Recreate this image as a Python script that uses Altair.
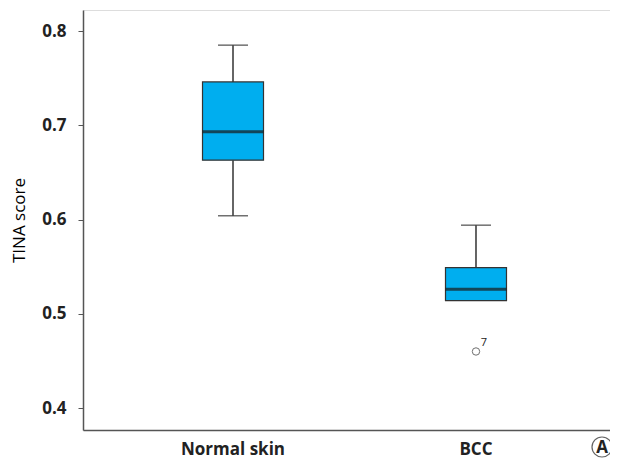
import altair as alt
import pandas as pd

categories = ["Normal skin", "BCC"]
lower = [0.604, 0.514]
q1 = [0.663, 0.514]
median = [0.693, 0.526]
q3 = [0.746, 0.549]
upper = [0.785, 0.594]

outlier_category = ["BCC"]
outlier_value = [0.460]
outlier_label = ["7"]

y_ticks = [0.4, 0.5, 0.6, 0.7, 0.8]
panel_label = ["A"]

FONT = "Open Sans"
BOX = "#00AEEF"
EDGE = "#333333"

df = pd.DataFrame({"cat": categories, "lower": lower, "q1": q1, "median": median,
                   "q3": q3, "upper": upper})
out_df = pd.DataFrame({"cat": outlier_category, "v": outlier_value, "lab": outlier_label})

xenc = alt.X("cat:N", sort=categories,
             scale=alt.Scale(paddingInner=0, paddingOuter=0.0844, align=0.695),
             axis=alt.Axis(title=None, labelAngle=0, ticks=False, labelPadding=11,
                           labelFontSize=17, labelFontWeight="bold", labelColor="#222222",
                           domainColor="#555555", domainWidth=1.5))
yscale = alt.Scale(domain=[0.3767, 0.8223], nice=False, zero=False)
yaxis = alt.Axis(title="TINA score", values=y_ticks, format=".1f", grid=False,
                 tickSize=5, tickColor="#555555", labelPadding=12, labelFontSize=17,
                 labelFontWeight="bold", labelColor="#222222", domainColor="#555555",
                 domainWidth=1.5, titleFontSize=17, titleFontWeight=500,
                 titleColor="#000000", titlePadding=13)

base = alt.Chart(df)

whisk_up = base.mark_rule(color=EDGE, strokeWidth=1.5).encode(
    x=xenc, y=alt.Y("q3:Q", scale=yscale, axis=yaxis), y2="upper:Q")
whisk_lo = base.transform_filter("datum.lower < datum.q1").mark_rule(color=EDGE, strokeWidth=1.5).encode(
    x=xenc, y=alt.Y("lower:Q", scale=yscale), y2="q1:Q")
cap_up = base.mark_tick(color=EDGE, size=30, thickness=1.5, orient="horizontal").encode(
    x=xenc, y=alt.Y("upper:Q", scale=yscale))
cap_lo = base.transform_filter("datum.lower < datum.q1").mark_tick(
    color=EDGE, size=30, thickness=1.5, orient="horizontal").encode(
    x=xenc, y=alt.Y("lower:Q", scale=yscale))
box = base.mark_bar(size=61, color=BOX, stroke=EDGE, strokeWidth=1.2).encode(
    x=xenc, y=alt.Y("q1:Q", scale=yscale), y2="q3:Q")
med = base.mark_tick(color="#1a1a1a", size=61, thickness=3, orient="horizontal").encode(
    x=xenc, y=alt.Y("median:Q", scale=yscale))

outl = alt.Chart(out_df).mark_point(shape="circle", filled=False, color=EDGE,
                                    size=55, strokeWidth=1).encode(
    x=xenc, y=alt.Y("v:Q", scale=yscale))
outl_txt = alt.Chart(out_df).mark_text(font=FONT, fontSize=11, color="#222222",
                                       dx=8, dy=-8).encode(
    x=xenc, y=alt.Y("v:Q", scale=yscale), text="lab:N")

pl_df = pd.DataFrame({"t": panel_label})
pl_circle = alt.Chart(pl_df).mark_point(shape="circle", filled=False, color="#222222",
                                        size=400, strokeWidth=1.2).encode(
    x=alt.value(519), y=alt.value(437))
pl_text = alt.Chart(pl_df).mark_text(font=FONT, fontSize=17, fontWeight="bold",
                                     color="#222222").encode(
    x=alt.value(519), y=alt.value(438), text="t:N")

chart = alt.layer(whisk_up, whisk_lo, cap_up, cap_lo, box, med, outl, outl_txt,
                  pl_circle, pl_text).properties(
    width=527, height=420,
    autosize=alt.AutoSizeParams(type="none"),
    padding={"left": 75, "top": 2, "right": 0, "bottom": 33},
).configure_view(stroke=None).configure(font=FONT)

chart.save("out.html", embed_options={"renderer": "svg", "actions": False})
